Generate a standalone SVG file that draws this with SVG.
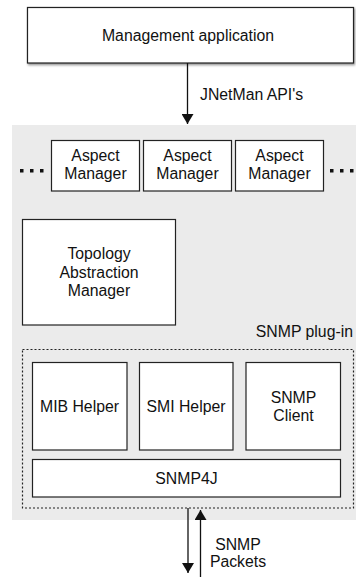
<svg xmlns="http://www.w3.org/2000/svg" width="356" height="577" viewBox="0 0 356 577">
<style>
text{font-family:"Liberation Sans",Arial,sans-serif;font-size:15.8px;fill:#111;}
.c{text-anchor:middle;}
.box{fill:#fff;stroke:#222;stroke-width:1.2;}
.ln{stroke:#111;stroke-width:1.3;fill:none;}
.dot{fill:#111;}
</style>
<defs>
<marker id="ah" viewBox="0 0 10 12" refX="10" refY="6" markerWidth="10" markerHeight="12" markerUnits="userSpaceOnUse" orient="auto">
<path d="M0,0 L10,6 L0,12 Z" fill="#111"/>
</marker>
<filter id="sh" x="-10%" y="-10%" width="120%" height="130%">
<feDropShadow dx="1" dy="1.5" stdDeviation="1" flood-color="#000" flood-opacity="0.45"/>
</filter>
</defs>
<rect x="12" y="125" width="344" height="395" fill="#ebebeb"/>
<g id="management-application">
<rect class="box" x="27.5" y="7.5" width="326" height="55.5" filter="url(#sh)" stroke-width="1.5"/>
<text class="c" x="188" y="40.5">Management application</text>
</g>
<g id="aspect-manager-1">
<rect class="box" x="51.5" y="140.5" width="88" height="50.5"/>
<text class="c" x="95.5" y="160.5">Aspect</text>
<text class="c" x="95.5" y="178.5">Manager</text>
</g>
<g id="aspect-manager-2">
<rect class="box" x="143.5" y="140.5" width="88" height="50.5"/>
<text class="c" x="187.5" y="160.5">Aspect</text>
<text class="c" x="187.5" y="178.5">Manager</text>
</g>
<g id="aspect-manager-3">
<rect class="box" x="235.5" y="140.5" width="88" height="50.5"/>
<text class="c" x="279.5" y="160.5">Aspect</text>
<text class="c" x="279.5" y="178.5">Manager</text>
</g>
<g id="ellipsis-left">
<rect class="dot" x="20" y="169" width="3.5" height="3.5"/>
<rect class="dot" x="30" y="169" width="3.5" height="3.5"/>
<rect class="dot" x="40" y="169" width="3.5" height="3.5"/>
</g>
<g id="ellipsis-right">
<rect class="dot" x="330" y="169" width="3.5" height="3.5"/>
<rect class="dot" x="340" y="169" width="3.5" height="3.5"/>
<rect class="dot" x="350" y="169" width="3.5" height="3.5"/>
</g>
<g id="topology-abstraction-manager">
<rect class="box" x="22.5" y="219.5" width="153" height="105.5"/>
<text class="c" x="99" y="259">Topology</text>
<text class="c" x="99" y="277.5">Abstraction</text>
<text class="c" x="99" y="296">Manager</text>
</g>
<g id="snmp-plugin">
<rect x="22.5" y="349.5" width="331" height="158.5" fill="none" stroke="#222" stroke-width="1.2" stroke-dasharray="2,2"/>
<text x="353" y="337" text-anchor="end">SNMP plug-in</text>
</g>
<g id="mib-helper">
<rect class="box" x="32.5" y="362.5" width="94.5" height="87.5"/>
<text class="c" x="79.5" y="411.5">MIB Helper</text>
</g>
<g id="smi-helper">
<rect class="box" x="139.5" y="362.5" width="93.5" height="87.5"/>
<text class="c" x="186" y="411.5">SMI Helper</text>
</g>
<g id="snmp-client">
<rect class="box" x="246" y="362.5" width="94.5" height="87.5"/>
<text class="c" x="293.5" y="402.5">SNMP</text>
<text class="c" x="293.5" y="420.5">Client</text>
</g>
<g id="snmp4j">
<rect class="box" x="32.5" y="459.5" width="308" height="37.5"/>
<text class="c" x="186.5" y="483.5">SNMP4J</text>
</g>
<g id="connectors">
<line class="ln" x1="187.5" y1="63" x2="187.5" y2="124" marker-end="url(#ah)"/>
<text x="200" y="100">JNetMan API's</text>
<line class="ln" x1="188" y1="508" x2="188" y2="573" marker-end="url(#ah)"/>
<line class="ln" x1="200.5" y1="577" x2="200.5" y2="510" marker-end="url(#ah)"/>
<text class="c" x="238" y="550">SNMP</text>
<text class="c" x="238" y="567">Packets</text>
</g>
</svg>
